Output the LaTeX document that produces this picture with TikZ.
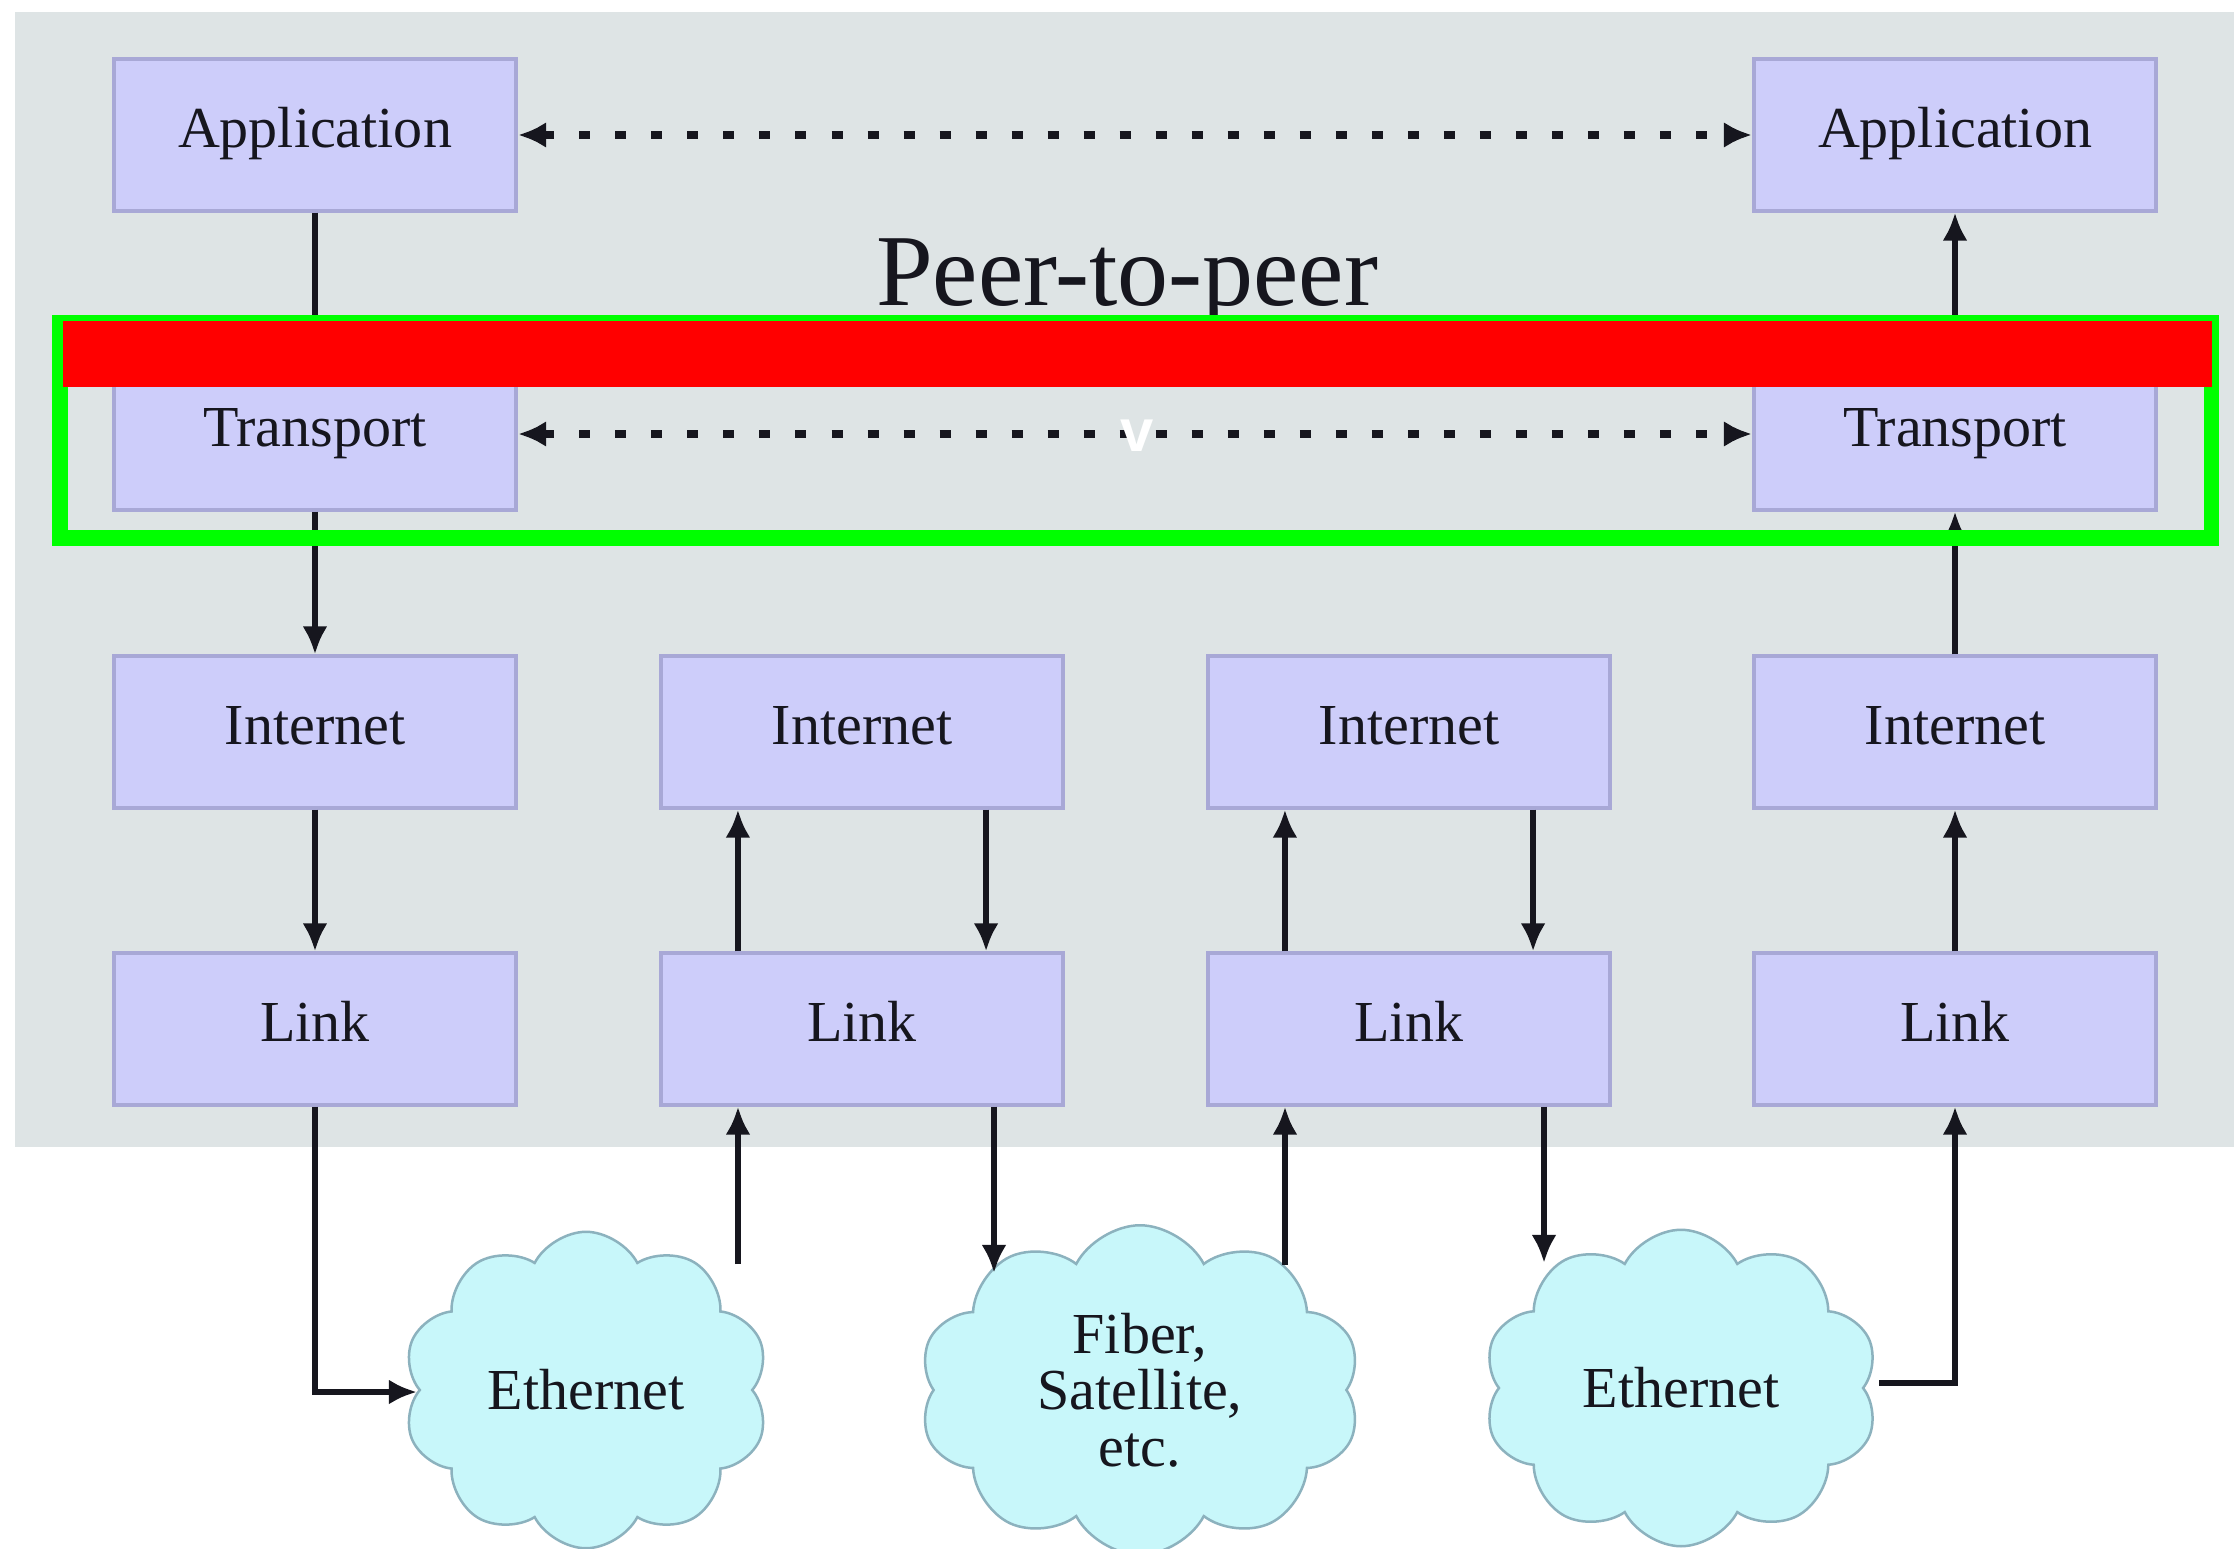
\documentclass[tikz,border=0pt]{standalone}
\usepackage{fontspec}
\setmainfont{Liberation Serif}
\newfontfamily\vfont{Liberation Sans}
\usetikzlibrary{arrows.meta,shapes.symbols,calc}
\definecolor{bggray}{RGB}{222,228,229}
\definecolor{boxfill}{RGB}{205,205,250}
\definecolor{boxedge}{RGB}{168,168,214}
\definecolor{cloudfill}{RGB}{200,247,250}
\definecolor{cloudedge}{RGB}{140,178,190}
\definecolor{ink}{RGB}{22,22,30}
\definecolor{mkgreen}{RGB}{0,255,0}
\definecolor{mkred}{RGB}{255,0,0}
\tikzset{
  layer/.style={draw=boxedge, line width=0.04cm, fill=boxfill, minimum width=4.02cm, minimum height=1.51cm,
    inner sep=0pt, text=ink, font=\fontsize{16.5pt}{18pt}\selectfont, text height=1.5ex, text depth=0pt},
  net/.style={cloud, cloud puffs=10, cloud puff arc=125, draw=cloudedge, line width=0.025cm, fill=cloudfill,
    inner sep=0pt, text=ink, font=\fontsize{16.5pt}{18pt}\selectfont, align=center},
  flow/.style={draw=ink, line width=0.06cm, -{Latex[length=0.28cm,width=0.25cm]}},
  peer/.style={draw=ink, line width=0.075cm, dash pattern=on 0.11cm off 0.25cm,
    {Latex[length=0.28cm,width=0.26cm]}-{Latex[length=0.28cm,width=0.26cm]}},
}
\begin{document}
\begin{tikzpicture}[x=0.01cm,y=-0.01cm]
\useasboundingbox (0,0) rectangle (2234,1549);
\fill[white] (0,0) rectangle (2234,1549);
\fill[bggray] (15,12) rectangle (2234,1147);
% layer boxes
\foreach \c/\x in {1/315,2/862,3/1409,4/1955}{
  \node[layer] (int\c) at (\x,732) {Internet};
  \node[layer] (link\c) at (\x,1029) {Link};
}
\node[layer] (app1) at (315,135) {Application};
\node[layer] (app4) at (1955,135) {Application};
\node[layer] (tr1) at (315,434) {Transport};
\node[layer] (tr4) at (1955,434) {Transport};
% title
\node[anchor=base, font=\fontsize{29pt}{32pt}\selectfont, text=ink, inner sep=0pt] (title) at (1127,306) {Peer-to-peer};
% peer arrows
\draw[peer] (app1.east) -- (app4.west);
\draw[peer] (tr1.east) -- (tr4.west);
% clouds
\node[net, minimum width=3.66cm, minimum height=3.16cm] (eth1) at (586,1390) {Ethernet};
\node[net, minimum width=4.42cm, minimum height=3.16cm] (fib) at (1140,1390) {Fiber,\\[-2pt]Satellite,\\[-2pt]etc.};
\node[net, minimum width=3.95cm, minimum height=3.16cm] (eth2) at (1681,1388) {Ethernet};
\coordinate (e1up) at (738,1264);
\coordinate (fdn) at (994,1273);
\coordinate (fup) at (1285,1265);
\coordinate (e2dn) at (1544,1263);
\coordinate (e1w) at (417,1392);
\coordinate (e2e) at (1879,1383);
% column 1
\draw[flow] (app1.south) -- (tr1.north);
\draw[flow] (tr1.south) -- (int1.north);
\draw[flow] (int1.south) -- (link1.north);
\draw[flow] (link1.south) |- (e1w);
% column 2
\draw[flow] ([xshift=-1.24cm]link2.north) -- ([xshift=-1.24cm]int2.south);
\draw[flow] ([xshift=1.24cm]int2.south) -- ([xshift=1.24cm]link2.north);
\draw[flow] (e1up) -- (e1up |- link2.south);
\draw[flow] (fdn |- link2.south) -- (fdn);
% column 3
\draw[flow] ([xshift=-1.24cm]link3.north) -- ([xshift=-1.24cm]int3.south);
\draw[flow] ([xshift=1.24cm]int3.south) -- ([xshift=1.24cm]link3.north);
\draw[flow] (fup) -- (fup |- link3.south);
\draw[flow] (e2dn |- link3.south) -- (e2dn);
% column 4
\draw[flow] (e2e) -| (link4.south);
\draw[flow] (link4.north) -- (int4.south);
\draw[flow] (int4.north) -- (tr4.south);
\draw[flow] (tr4.north) -- (app4.south);
% overlay marks
\draw[mkgreen, line width=0.15cm] (60,323) rectangle (2211,538);
\fill[mkred] (63,321) rectangle (2212,387);
\node[text=white, font=\vfont\fontsize{17pt}{18pt}\selectfont\bfseries, inner sep=0pt] (vmark) at (1137,436) {v};
\end{tikzpicture}
\end{document}
